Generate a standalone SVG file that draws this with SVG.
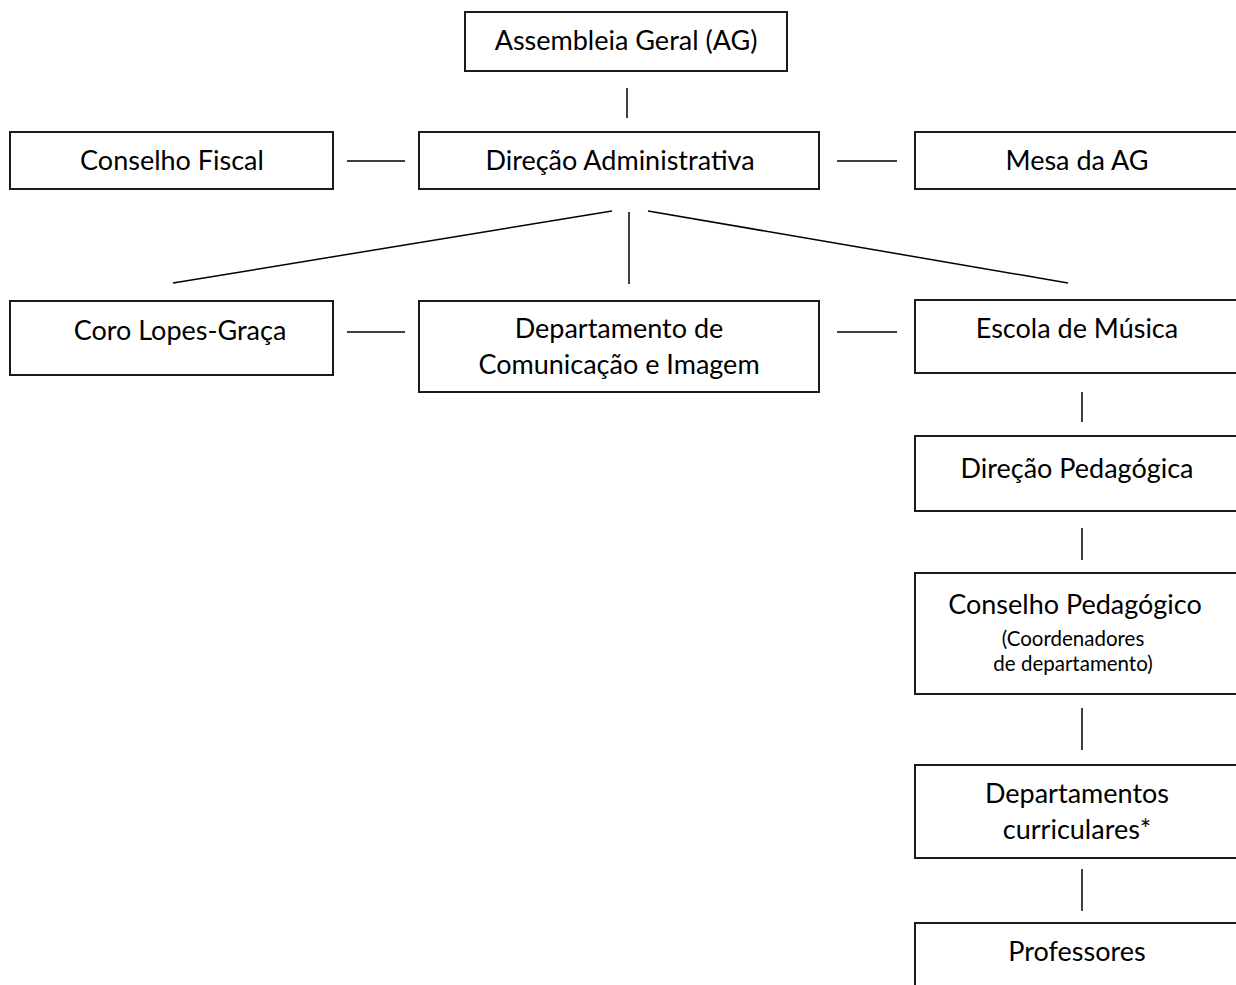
<svg xmlns="http://www.w3.org/2000/svg" width="1236" height="985" viewBox="0 0 1236 985">
<style>
  .box { fill: #ffffff; stroke: #1a1a1a; stroke-width: 2; }
  .t { font-family: Lato, "Open Sans", "Liberation Sans", sans-serif; font-size: 27px; fill: #000000; text-anchor: middle; }
  .s { font-size: 20.5px; }
  .ln { stroke: #000000; stroke-width: 1.5; fill: none; }
</style>
<rect width="1236" height="985" fill="#ffffff"/>
<g id="connectors">
  <line class="ln" x1="627" y1="88" x2="627" y2="118"/>
  <line class="ln" x1="347" y1="161" x2="405" y2="161"/>
  <line class="ln" x1="837" y1="161" x2="897" y2="161"/>
  <line class="ln" x1="612" y1="211" x2="173" y2="283"/>
  <line class="ln" x1="629" y1="212" x2="629" y2="284"/>
  <line class="ln" x1="648" y1="211" x2="1068" y2="283"/>
  <line class="ln" x1="347" y1="332" x2="405" y2="332"/>
  <line class="ln" x1="837" y1="332" x2="897" y2="332"/>
  <line class="ln" x1="1082" y1="392" x2="1082" y2="422"/>
  <line class="ln" x1="1082" y1="528" x2="1082" y2="560"/>
  <line class="ln" x1="1082" y1="708" x2="1082" y2="750"/>
  <line class="ln" x1="1082" y1="869" x2="1082" y2="911"/>
</g>
<g id="assembleia">
  <rect class="box" x="465" y="12" width="322" height="59"/>
  <text class="t" x="626" y="50">Assembleia Geral (AG)</text>
</g>
<g id="conselho-fiscal">
  <rect class="box" x="10" y="132" width="323" height="57"/>
  <text class="t" x="172" y="170">Conselho Fiscal</text>
</g>
<g id="direcao-administrativa">
  <rect class="box" x="419" y="132" width="400" height="57"/>
  <text class="t" x="620" y="170">Direção Administrativa</text>
</g>
<g id="mesa-ag">
  <rect class="box" x="915" y="132" width="324" height="57"/>
  <text class="t" x="1077" y="170">Mesa da AG</text>
</g>
<g id="coro">
  <rect class="box" x="10" y="301" width="323" height="74"/>
  <text class="t" x="180" y="340">Coro Lopes-Graça</text>
</g>
<g id="departamento-comunicacao">
  <rect class="box" x="419" y="301" width="400" height="91"/>
  <text class="t" x="619" y="338">Departamento de</text>
  <text class="t" x="619" y="374">Comunicação e Imagem</text>
</g>
<g id="escola-musica">
  <rect class="box" x="915" y="300" width="324" height="73"/>
  <text class="t" x="1077" y="338">Escola de Música</text>
</g>
<g id="direcao-pedagogica">
  <rect class="box" x="915" y="436" width="324" height="75"/>
  <text class="t" x="1077" y="478">Direção Pedagógica</text>
</g>
<g id="conselho-pedagogico">
  <rect class="box" x="915" y="573" width="324" height="121"/>
  <text class="t" x="1075" y="614">Conselho Pedagógico</text>
  <text class="t s" x="1073" y="646">(Coordenadores</text>
  <text class="t s" x="1073" y="671">de departamento)</text>
</g>
<g id="departamentos-curriculares">
  <rect class="box" x="915" y="765" width="324" height="93"/>
  <text class="t" x="1077" y="803">Departamentos</text>
  <text class="t" x="1077" y="839">curriculares*</text>
</g>
<g id="professores">
  <rect class="box" x="915" y="923" width="324" height="80"/>
  <text class="t" x="1077" y="961">Professores</text>
</g>
</svg>
